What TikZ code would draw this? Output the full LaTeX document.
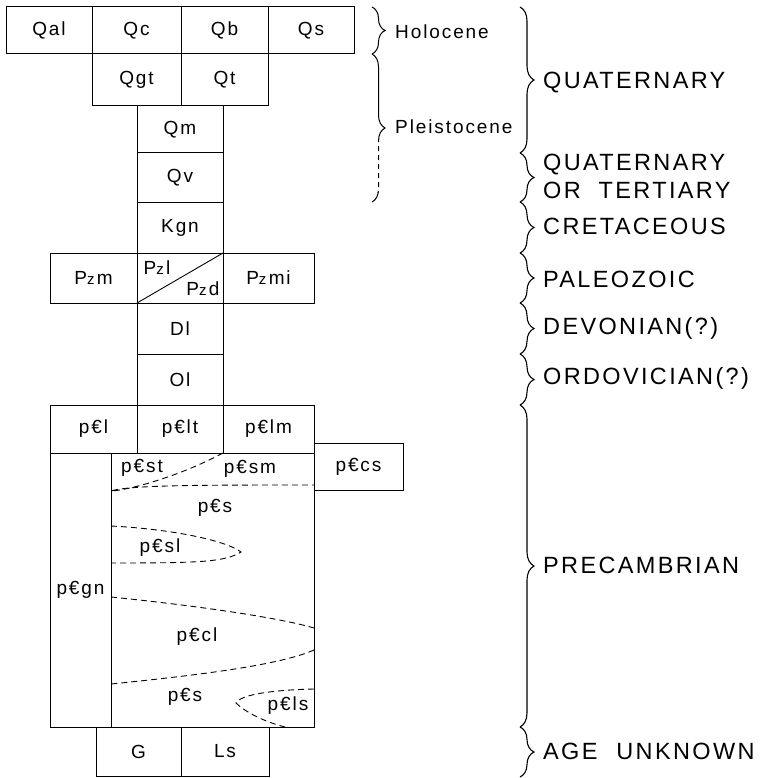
\documentclass[tikz,border=0pt]{standalone}
\usepackage{fontspec}
\usepackage{graphicx}
\setmainfont[LetterSpace=10]{Liberation Sans}
\usetikzlibrary{decorations.pathreplacing}
\newcommand{\pzs}{P{\fontsize{15}{15}\selectfont z}\kern0.12em}
\newcommand{\pcs}{p€}
\tikzset{
 box/.style={draw, line width=1pt, inner sep=0pt, outer sep=0pt, font=\fontsize{19}{20}\selectfont},
 lbl/.style={inner sep=0pt, font=\fontsize{19}{20}\selectfont},
 era/.style={anchor=west, inner sep=0pt, font=\fontsize{23.5}{28}\selectfont, align=left},
 sub/.style={anchor=west, inner sep=0pt, font=\fontsize{19}{20}\selectfont},
 bigbrace/.style={decorate, decoration={brace, amplitude=14pt}, line width=1.1pt},
 smallbrace/.style={decorate, decoration={brace, amplitude=13pt}, line width=1pt},
 bnd/.style={dashed, dash pattern=on 6pt off 4pt, line width=0.9pt},
}
\begin{document}
\begin{tikzpicture}[x=1pt,y=-1pt]
\useasboundingbox (0,0) rectangle (771,778);
% Quaternary
\node[box, minimum width=86, minimum height=47] (qal) at (49,30.5) {Qal};
\node[box, minimum width=89, minimum height=47] (qc) at (136.5,30.5) {Qc};
\node[box, minimum width=87, minimum height=47] (qb) at (224.5,30.5) {Qb};
\node[box, minimum width=86, minimum height=47] (qs) at (311,30.5) {Qs};
\node[box, minimum width=89, minimum height=52] (qgt) at (136.5,80) {Qgt};
\node[box, minimum width=87, minimum height=52] (qt) at (224.5,80) {Qt};
\node[box, minimum width=86, minimum height=47] (qm) at (180,129.5) {Qm};
\node[box, minimum width=86, minimum height=49] (qv) at (180,177.5) {Qv};
\node[box, minimum width=86, minimum height=51] (kgn) at (180,227.5) {Kgn};
% Paleozoic
\node[box, minimum width=87, minimum height=50] (pzm) at (93.5,278) {\pzs m};
\node[box, minimum width=86, minimum height=50] (pzmid) at (180,278) {};
\node[box, minimum width=91, minimum height=50] (pzmi) at (268.5,278) {\pzs mi};
\draw[line width=0.9pt] (pzmid.south west) -- (pzmid.north east);
\node[lbl] (pzl) at (157,268) {\pzs l};
\node[lbl] (pzd) at (203,289) {\pzs d};
\node[box, minimum width=86, minimum height=51] (dl) at (180,328.5) {Dl};
\node[box, minimum width=86, minimum height=51] (ol) at (180,379.5) {Ol};
% Precambrian
\node[box, minimum width=87, minimum height=48] (pcl) at (93.5,429) {\pcs l};
\node[box, minimum width=86, minimum height=48] (pclt) at (180,429) {\pcs lt};
\node[box, minimum width=91, minimum height=48] (pclm) at (268.5,429) {\pcs lm};
\node[box, minimum width=61, minimum height=274] (pcgn) at (80.5,590) {\pcs gn};
\node[box, minimum width=203, minimum height=274] (pcmain) at (212.5,590) {};
\node[box, minimum width=89, minimum height=47] (pccs) at (358.5,466.5) {\pcs cs};
\coordinate (a1) at (111,491);
\coordinate (a2) at (314,485);
\coordinate (l1) at (111,526);
\coordinate (l2) at (241,552);
\coordinate (l3) at (111,563);
\coordinate (c1) at (111,597);
\coordinate (c2) at (314,628);
\coordinate (c3) at (314,650);
\coordinate (c4) at (111,684);
\coordinate (s1) at (314,689);
\coordinate (s2) at (236,703);
\coordinate (s3) at (285,727);
\draw[bnd] (pclt.south east) .. controls (180,476) and (130,490) .. (a1)
  .. controls (130,485) and (200,485) .. (a2);
\draw[bnd] (l1) .. controls (170,529) and (225,540) .. (l2)
  .. controls (225,562) and (200,563) .. (l3);
\draw[bnd] (c1) .. controls (200,606) and (280,618) .. (c2);
\draw[bnd] (c3) .. controls (280,665) and (200,675) .. (c4);
\draw[bnd] (s1) .. controls (270,690) and (240,695) .. (s2)
  .. controls (245,712) and (265,722) .. (s3);
\node[lbl] (pcst) at (142,468) {\pcs st};
\node[lbl] (pcsm) at (250,469) {\pcs sm};
\node[lbl] (pcsa) at (215,508) {\pcs s};
\node[lbl] (pcsl) at (160,548) {\pcs sl};
\node[lbl] (pccl) at (197,637) {\pcs cl};
\node[lbl] (pcsb) at (185,697) {\pcs s};
\node[lbl] (pcls) at (288,706) {\pcs ls};
% Age unknown
\node[box, minimum width=85, minimum height=49] (g) at (138.5,751.5) {G};
\node[box, minimum width=88, minimum height=49] (ls) at (225,751.5) {Ls};
% small braces
\coordinate (h0) at (372,7);
\coordinate (h1) at (372,54);
\coordinate (h2) at (372,202);
\draw[smallbrace] (h0) -- (h1);
\begin{scope}\clip (355,40) rectangle (400,140); \draw[smallbrace] (h1) -- (h2); \end{scope}
\begin{scope}\clip (355,140) rectangle (400,192); \draw[smallbrace, dashed, dash pattern=on 5pt off 4pt] (h1) -- (h2); \end{scope}
\begin{scope}\clip (355,192) rectangle (400,215); \draw[smallbrace] (h1) -- (h2); \end{scope}
\node[sub] (holo) at (395,32) {Holocene};
\node[sub] (pleis) at (395,127) {Pleistocene};
% big braces
\coordinate (e0) at (520,7);
\coordinate (e1) at (520,153);
\coordinate (e2) at (520,202);
\coordinate (e3) at (520,253);
\coordinate (e4) at (520,303);
\coordinate (e5) at (520,354);
\coordinate (e6) at (520,405);
\coordinate (e7) at (520,727);
\coordinate (e8) at (520,777);
\draw[bigbrace] (e0) -- (e1);
\draw[bigbrace] (e1) -- (e2);
\draw[bigbrace] (e2) -- (e3);
\draw[bigbrace] (e3) -- (e4);
\draw[bigbrace] (e4) -- (e5);
\draw[bigbrace] (e5) -- (e6);
\draw[bigbrace] (e6) -- (e7);
\draw[bigbrace] (e7) -- (e8);
\node[era] (quat) at (543,83) {QUATERNARY};
\node[era] (qort) at (543,176) {QUATERNARY\\OR\hspace{9pt} TERTIARY};
\node[era] (cret) at (543,226) {CRETACEOUS};
\node[era] (pal) at (543,279) {PALEOZOIC};
\node[era] (dev) at (543,328) {DEVONIAN(?)};
\node[era] (ord) at (543,378) {ORDOVICIAN(?)};
\node[era] (prec) at (543,565) {PRECAMBRIAN};
\node[era] (age) at (543,751) {AGE\hspace{10pt} UNKNOWN};
\end{tikzpicture}
\end{document}
